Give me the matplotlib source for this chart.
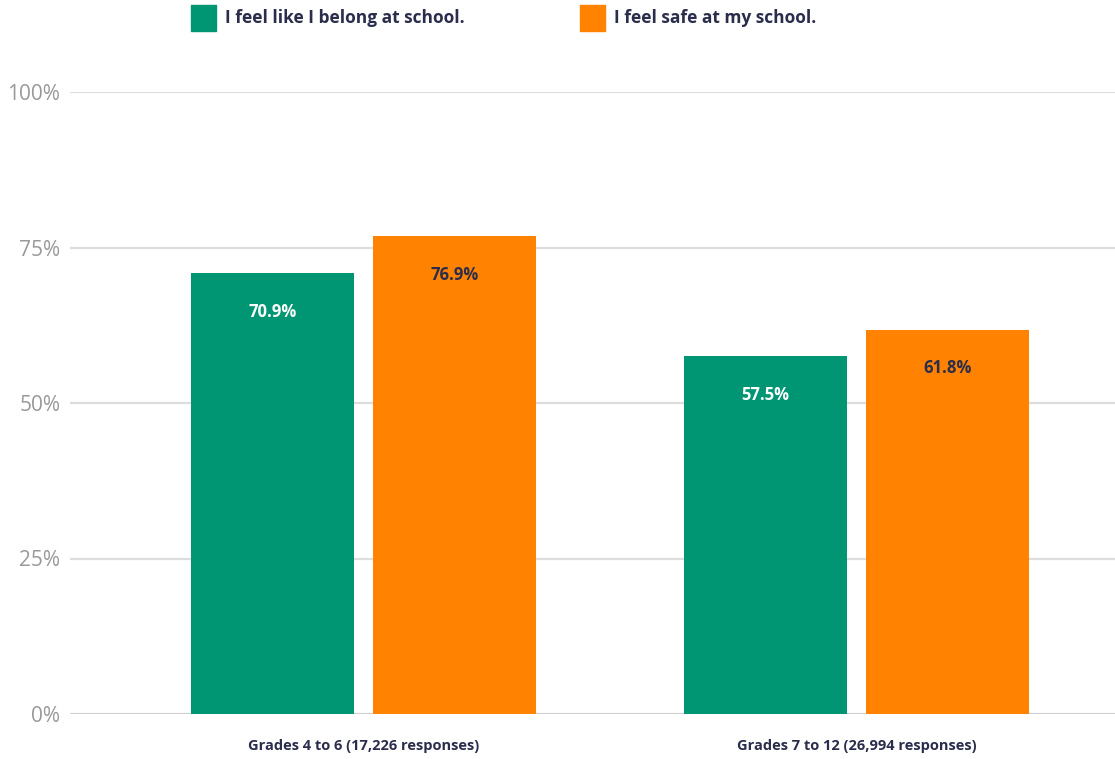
import numpy as np
import matplotlib.pyplot as plt
from matplotlib.patches import Rectangle

groups = ["Grades 4 to 6 (17,226 responses)", "Grades 7 to 12 (26,994 responses)"]
series = ["I feel like I belong at school.", "I feel safe at my school."]
belong = [70.9, 57.5]
safe = [76.9, 61.8]
yticks = [0, 25, 50, 75, 100]

green = "#009673"
orange = "#FF8200"
navy = "#2a2d4b"
font = ["Open Sans", "DejaVu Sans"]

fig = plt.figure(figsize=(11.15, 7.59), dpi=100)
ax = fig.add_axes([70 / 1115, 45 / 759, 1 - 70 / 1115, (714 - 92) / 759])

x = np.arange(len(groups))
w = 0.331
off = 0.1846
b1 = ax.bar(x - off, belong, w, color=green, zorder=3)
b2 = ax.bar(x + off, safe, w, color=orange, zorder=3)

for bars, vals, col in [(b1, belong, "white"), (b2, safe, navy)]:
    for r, v in zip(bars, vals):
        ax.annotate(f"{v:.1f}%", (r.get_x() + r.get_width() / 2, v),
                    xytext=(0, -28), textcoords="offset points",
                    ha="center", va="center", color=col, fontsize=12,
                    fontweight="bold", family=font, zorder=4)

ax.set_xlim(-0.595, 1.524)
ax.set_ylim(0, 100)
ax.set_yticks(yticks)
ax.set_yticklabels([f"{t}%" for t in yticks], color="#999999", fontsize=15,
                   family=font)
ax.set_xticks(x)
ax.set_xticklabels(groups, color=navy, fontsize=10.5, fontweight="bold", family=font)
ax.tick_params(axis="y", length=0, pad=7)
ax.tick_params(axis="x", length=0, pad=18)
ax.grid(axis="y", color="#dddddd", linewidth=1.6, zorder=0)
for s in ax.spines.values():
    s.set_visible(False)
ax.axhline(0, color="#cccccc", linewidth=1.8, zorder=2)

# legend
for xs, lab, col in [(191, series[0], green), (580, series[1], orange)]:
    fig.patches.append(Rectangle((xs / 1115, 1 - 31 / 759), 25 / 1115, 26 / 759,
                                 transform=fig.transFigure, color=col))
    fig.text((xs + 34) / 1115, 1 - 18 / 759, lab, color=navy, fontsize=12.5,
             fontweight="bold", family=font, va="center", ha="left")

fig.savefig("out.png", dpi=100)
